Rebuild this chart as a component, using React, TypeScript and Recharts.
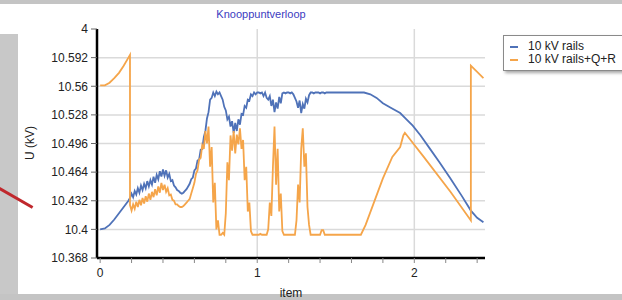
import { LineChart, Line, XAxis, YAxis, CartesianGrid } from "recharts";

// item axis of the dense (noisy) part: 0.19 .. 1.45 in steps of 0.01
const denseItems = Array.from({ length: 127 }, (_, i) => +(0.19 + i * 0.01).toFixed(2));

const railsHeadItem = [0, 0.03, 0.06, 0.09, 0.12, 0.15, 0.18];
const railsHeadU = [10.4, 10.401, 10.405, 10.411, 10.418, 10.425, 10.432];
const railsDenseU = [
  10.435, 10.44, 10.436, 10.443, 10.439, 10.446, 10.441, 10.449, 10.444, 10.451,
  10.446, 10.454, 10.448, 10.455, 10.45, 10.459, 10.452, 10.461, 10.456, 10.465,
  10.459, 10.467, 10.46, 10.466, 10.458, 10.462, 10.454, 10.455, 10.449, 10.447,
  10.444, 10.443, 10.441, 10.44, 10.441, 10.443, 10.445, 10.448, 10.451, 10.456,
  10.458, 10.466, 10.468, 10.477, 10.478, 10.489, 10.49, 10.503, 10.51, 10.524,
  10.531, 10.545, 10.547, 10.553, 10.549, 10.554, 10.551, 10.553, 10.549, 10.545,
  10.537, 10.533, 10.523, 10.526, 10.515, 10.521, 10.508, 10.519, 10.51, 10.523,
  10.517, 10.529, 10.528, 10.538, 10.536, 10.545, 10.544, 10.551, 10.549, 10.553,
  10.551, 10.553, 10.553, 10.552, 10.553, 10.549, 10.553, 10.547, 10.545, 10.549,
  10.538, 10.545, 10.531, 10.542, 10.535, 10.548, 10.541, 10.552, 10.553, 10.552,
  10.553, 10.553, 10.552, 10.553, 10.551, 10.547, 10.543, 10.536, 10.544, 10.53,
  10.54, 10.535, 10.546, 10.542, 10.55, 10.553, 10.553, 10.552, 10.553, 10.553,
  10.553, 10.552, 10.553, 10.553, 10.552, 10.553, 10.553,
];
const railsTailItem = [1.68, 1.72, 1.76, 1.8, 1.85, 1.91, 1.95, 1.99, 2.04, 2.1, 2.16, 2.23, 2.3, 2.36, 2.4, 2.44];
const railsTailU = [10.553, 10.551, 10.547, 10.541, 10.536, 10.53, 10.523, 10.516, 10.505, 10.49, 10.475, 10.457, 10.438, 10.421, 10.413, 10.408];

const qrHeadItem = [0, 0.03, 0.06, 0.09, 0.12, 0.15, 0.18, 0.19];
const qrHeadU = [10.561, 10.561, 10.564, 10.569, 10.575, 10.583, 10.592, 10.595];
const qrDenseU = [
  10.427, 10.421, 10.428, 10.423, 10.431, 10.425, 10.433, 10.427, 10.435, 10.429,
  10.437, 10.431, 10.44, 10.433, 10.442, 10.436, 10.445, 10.438, 10.448, 10.441,
  10.452, 10.444, 10.45, 10.442, 10.446, 10.438, 10.439, 10.433, 10.432, 10.428,
  10.428, 10.426, 10.425, 10.425, 10.426, 10.428, 10.43, 10.432, 10.434, 10.44,
  10.446, 10.452, 10.462, 10.466, 10.478, 10.48, 10.494, 10.49, 10.51, 10.496,
  10.515, 10.47, 10.492, 10.43, 10.452, 10.4, 10.41, 10.394, 10.394, 10.396,
  10.394, 10.418, 10.475, 10.455, 10.505, 10.488, 10.51, 10.485, 10.506, 10.495,
  10.513, 10.49, 10.5, 10.455, 10.47, 10.42, 10.43, 10.398, 10.394, 10.394,
  10.394, 10.394, 10.394, 10.395, 10.394, 10.394, 10.394, 10.394, 10.4, 10.43,
  10.415, 10.47, 10.515, 10.45, 10.49, 10.42, 10.44, 10.398, 10.394, 10.394,
  10.394, 10.394, 10.394, 10.394, 10.394, 10.394, 10.41, 10.45, 10.43, 10.49,
  10.513, 10.47, 10.485, 10.425, 10.405, 10.394, 10.394, 10.394, 10.394, 10.394,
  10.394, 10.394, 10.399, 10.399, 10.394, 10.394, 10.394,
];
const qrTailItem = [1.66, 1.69, 1.8, 1.86, 1.91, 1.93, 1.94, 2.06, 2.23, 2.36, 2.36, 2.44];
const qrTailU = [10.394, 10.405, 10.457, 10.481, 10.492, 10.505, 10.508, 10.481, 10.442, 10.41, 10.583, 10.569];

const xTicks = [0, 0.2, 0.4, 0.6, 0.8, 1, 1.2, 1.4, 1.6, 1.8, 2, 2.2, 2.4];
const yTicks = [10.368, 10.4, 10.432, 10.464, 10.496, 10.528, 10.56, 10.592, 10.624];
const yTickLabels = ["10.368", "10.4", "10.432", "10.464", "10.496", "10.528", "10.56", "10.592", "4"];

const RAILS = "#4f72b8";
const QR = "#f5a54a";
const FONT = "'Liberation Sans', Arial, sans-serif";

const toPoints = (items: number[], values: number[]) =>
  items.map((x, i) => ({ x, u: values[i] }));

const railsData = [
  ...toPoints(railsHeadItem, railsHeadU),
  ...toPoints(denseItems, railsDenseU),
  ...toPoints(railsTailItem, railsTailU),
];
const qrData = [
  ...toPoints(qrHeadItem, qrHeadU),
  ...toPoints(denseItems, qrDenseU),
  ...toPoints(qrTailItem, qrTailU),
];

export default function App() {
  return (
    <div
      style={{
        position: "absolute",
        left: 0,
        top: 0,
        width: 622,
        height: 300,
        overflow: "hidden",
        background: "#fff",
        fontFamily: FONT,
      }}
    >
      {/* surrounding window bits from the screenshot */}
      <div style={{ position: "absolute", left: 0, top: 0, width: 622, height: 4, background: "#c4c4c4" }} />
      <div style={{ position: "absolute", left: 0, top: 294, width: 622, height: 6, background: "#c4c4c4" }} />
      <div style={{ position: "absolute", left: 0, top: 34, width: 18, height: 260, background: "#c8c8c8" }} />
      <div
        style={{
          position: "absolute",
          left: -2,
          top: 186,
          width: 40,
          height: 3,
          background: "#c0282d",
          transform: "rotate(30deg)",
          transformOrigin: "left center",
        }}
      />

      <div
        style={{
          position: "absolute",
          left: 190,
          top: 8,
          width: 142,
          textAlign: "center",
          fontSize: 11,
          color: "#3b3bbf",
        }}
      >
        Knooppuntverloop
      </div>

      <div style={{ position: "absolute", left: 0, top: 0 }}>
        <LineChart width={622} height={300} margin={{ top: 29, right: 137, bottom: 0, left: 0 }}>
          <CartesianGrid
            stroke="#dadada"
            strokeWidth={1.5}
            horizontalValues={yTicks.slice(0, -1)}
            verticalValues={[1, 2]}
          />
          <XAxis
            type="number"
            dataKey="x"
            domain={[-0.02, 2.45]}
            ticks={xTicks}
            allowDataOverflow
            height={42}
            interval={0}
            tickFormatter={(v: number) => (Number.isInteger(v) ? String(v) : "")}
            axisLine={{ stroke: "#000", strokeWidth: 2.5 }}
            tickLine={{ stroke: "#888" }}
            tickSize={5}
            tickMargin={5}
            tick={{ fontSize: 12, fill: "#222", fontFamily: FONT }}
            label={{ value: "item", position: "insideBottom", offset: 3, fontSize: 12, fill: "#222", fontFamily: FONT }}
          />
          <YAxis
            type="number"
            domain={[10.368, 10.624]}
            ticks={yTicks}
            interval={0}
            allowDataOverflow
            width={97}
            tickFormatter={(_v: number, i: number) => yTickLabels[i]}
            axisLine={{ stroke: "#000", strokeWidth: 2.5 }}
            tickLine={{ stroke: "#666" }}
            tickSize={6}
            tickMargin={3}
            tick={{ fontSize: 12, fill: "#222", fontFamily: FONT }}
            label={{
              content: () => (
                <text
                  x={30}
                  y={143}
                  transform="rotate(-90 30 143)"
                  textAnchor="middle"
                  dominantBaseline="central"
                  fontSize={12}
                  fill="#222"
                  fontFamily={FONT}
                >
                  U (kV)
                </text>
              ),
            }}
          />
          <Line
            data={railsData}
            dataKey="u"
            name="10 kV rails"
            type="linear"
            stroke={RAILS}
            strokeWidth={1.8}
            dot={false}
            isAnimationActive={false}
          />
          <Line
            data={qrData}
            dataKey="u"
            name="10 kV rails+Q+R"
            type="linear"
            stroke={QR}
            strokeWidth={1.8}
            dot={false}
            isAnimationActive={false}
          />
        </LineChart>
      </div>

      <div
        style={{
          position: "absolute",
          left: 503,
          top: 35,
          width: 140,
          height: 34,
          border: "1px solid #8a8a8a",
          boxShadow: "2px 2px 3px rgba(0,0,0,0.35)",
          background: "#fff",
          fontSize: 12,
          color: "#222",
        }}
      >
        {[
          { name: "10 kV rails", color: RAILS },
          { name: "10 kV rails+Q+R", color: QR },
        ].map((e, i) => (
          <div key={e.name} style={{ position: "absolute", left: 6, top: 3 + i * 13, whiteSpace: "nowrap", lineHeight: "14px" }}>
            <span style={{ display: "inline-block", width: 8, height: 2, background: e.color, verticalAlign: "middle", marginRight: 10 }} />
            {e.name}
          </div>
        ))}
      </div>
    </div>
  );
}
